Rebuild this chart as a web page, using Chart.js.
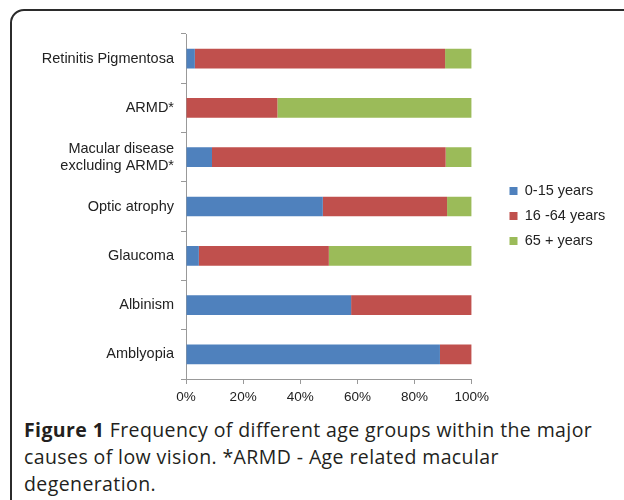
<!DOCTYPE html>
<html>
<head>
<meta charset="utf-8">
<script src="https://cdn.jsdelivr.net/npm/chart.js@4/dist/chart.umd.min.js"></script>
<style>
  html, body { margin: 0; padding: 0; background: #fff; }
  body { width: 624px; height: 500px; position: relative; overflow: hidden; }
  .frame {
    position: absolute; left: 10px; top: 9px; width: 660px; height: 520px;
    border: 2px solid #2b2b2b; border-radius: 14px; box-sizing: border-box;
  }
  #wrap { position: absolute; left: 0; top: 0; width: 624px; height: 410px; }
  .caption {
    position: absolute; left: 24px; top: 416px; width: 600px;
    font-family: "Open Sans", Lato, sans-serif; font-size: 19.5px; line-height: 27px;
    letter-spacing: 0.4px; color: #231f20; white-space: nowrap;
  }
  .caption b { font-weight: bold; }
</style>
</head>
<body>
<div class="frame"></div>
<div id="wrap"><canvas id="chart"></canvas></div>
<div class="caption"><b>Figure 1</b> Frequency of different age groups within the major<br>causes of low vision. *ARMD - Age related macular<br>degeneration.</div>
<script>
// Causes de basse vision, du haut vers le bas
const causes = [
  'Retinitis Pigmentosa',
  'ARMD*',
  ['Macular disease', 'excluding ARMD*'],
  'Optic atrophy',
  'Glaucoma',
  'Albinism',
  'Amblyopia',
];
const groupLabels = ['0-15 years', '16 -64 years', '65 + years'];
const young = [3.1, 0, 9.1, 47.9, 4.5, 57.8, 88.9];
const adult = [87.6, 32.0, 81.8, 43.5, 45.5, 42.2, 11.1];
const senior = [9.3, 68.0, 9.1, 8.6, 50.0, 0, 0];
const xTicks = [0, 20, 40, 60, 80, 100];

const colors = ['#4F81BD', '#C0504D', '#9BBB59'];
const font = 'Liberation Sans, Arial, sans-serif';

// décale la légende (écart plus grand que le padding des items, un peu plus haut)
const legendShift = {
  id: 'legendShift',
  afterLayout(chart) {
    const lg = chart.legend;
    const dx = 499 - lg.left;
    lg.left += dx;
    lg.right += dx;
    lg.top -= 4;
    lg.bottom -= 4;
  },
};

new Chart(document.getElementById('chart').getContext('2d'), {
  type: 'bar',
  data: {
    labels: causes,
    datasets: [young, adult, senior].map((values, i) => ({
      label: groupLabels[i],
      data: values,
      backgroundColor: colors[i],
      borderWidth: 0,
      barPercentage: 0.4,
      categoryPercentage: 1,
    })),
  },
  options: {
    indexAxis: 'y',
    responsive: true,
    maintainAspectRatio: false,
    animation: false,
    layout: { padding: { top: 34, bottom: 4, left: 0, right: 36 } },
    plugins: {
      tooltip: { enabled: false },
      legend: {
        position: 'right',
        labels: {
          boxWidth: 8,
          boxHeight: 8,
          padding: 10.5,
          color: '#222',
          font: { family: font, size: 14.5 },
        },
      },
    },
    scales: {
      x: {
        stacked: true,
        min: 0,
        max: 100,
        afterBuildTicks: (scale) => { scale.ticks = xTicks.map((v) => ({ value: v })); },
        ticks: {
          callback: (v) => v + '%',
          color: '#222',
          padding: 5,
          font: { family: font, size: 13.5 },
        },
        grid: { drawOnChartArea: false, tickLength: 5, color: '#999' },
        border: { color: '#999' },
        afterFit: (scale) => { scale.height = 27; },
      },
      y: {
        stacked: true,
        ticks: {
          color: '#222',
          padding: 7,
          font: { family: font, size: 14.5 },
        },
        grid: { drawOnChartArea: false, tickLength: 5, color: '#999', offset: true },
        border: { color: '#999' },
        afterFit: (scale) => { scale.width = 186; },
      },
    },
  },
  plugins: [legendShift],
});
</script>
</body>
</html>
